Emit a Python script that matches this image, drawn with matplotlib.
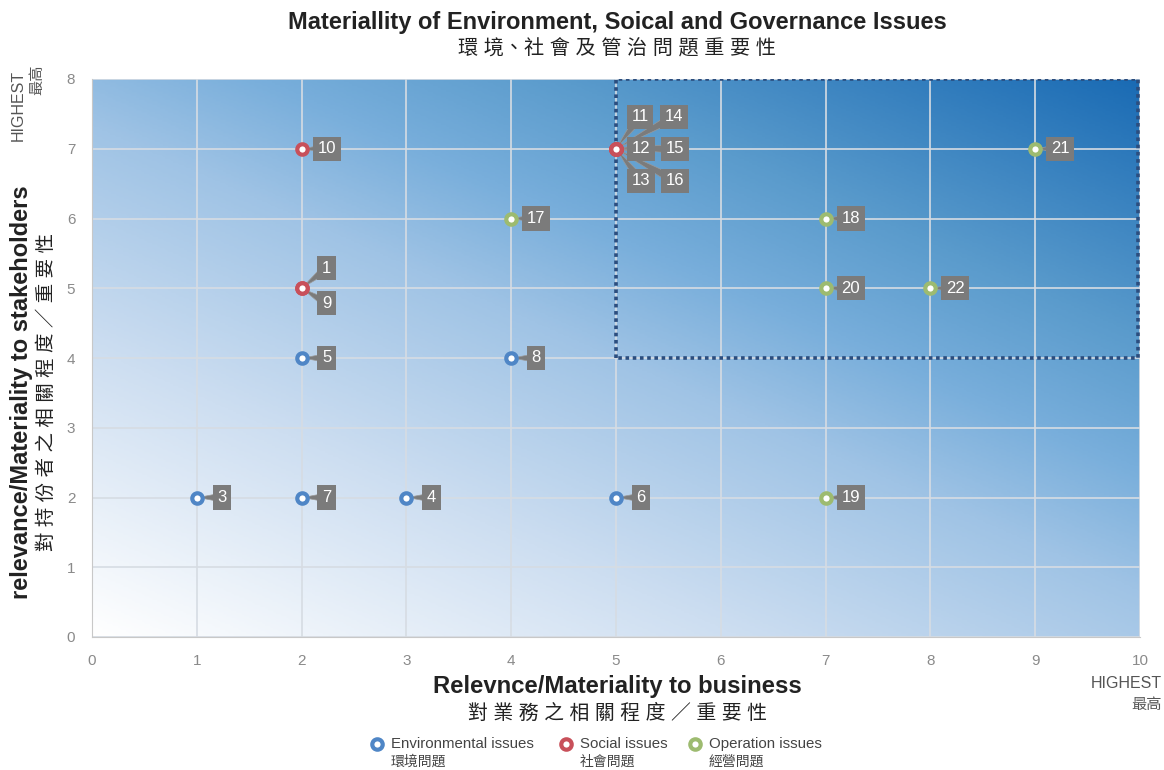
import numpy as np
import matplotlib.pyplot as plt
from matplotlib.colors import LinearSegmentedColormap
from matplotlib.lines import Line2D

plt.rcParams['font.family'] = ['Liberation Sans', 'Noto Sans CJK TC', 'DejaVu Sans']

# issue numbers and their positions (business, stakeholders)
env_ids = ['3', '5', '7', '4', '8', '6']
env_x = [1, 2, 2, 3, 4, 5]
env_y = [2, 4, 2, 2, 4, 2]

soc_ids = ['10', '1', '9', '11', '14', '12', '15', '13', '16']
soc_x = [2, 2, 2, 5, 5, 5, 5, 5, 5]
soc_y = [7, 5, 5, 7, 7, 7, 7, 7, 7]

ops_ids = ['17', '18', '20', '22', '21', '19']
ops_x = [4, 7, 7, 8, 9, 7]
ops_y = [6, 6, 5, 5, 7, 2]

# label offsets (pixels) for stacked labels
offsets = {'1': (25, 20), '9': (25, -15),
           '11': (24, 32), '14': (58, 32),
           '12': (25, 0), '15': (59, 0),
           '13': (25, -32), '16': (59, -32)}

fig = plt.figure(figsize=(11.64, 7.7), dpi=100)
ax = fig.add_axes([92/1164, 1-637/770, 1048/1164, 558/770])

# gradient background (steeper vertically than horizontally)
gx, gy = np.meshgrid(np.linspace(0, 1, 400), np.linspace(0, 1, 300))
grad = 0.455 * gx + 0.545 * gy
cmap = LinearSegmentedColormap.from_list(
    'bg', [(0, '#ffffff'), (0.28, '#cddef1'), (0.5, '#9fc3e5'), (0.62, '#78aedb'),
           (0.75, '#5a9bcc'), (1, '#1a6bb4')])
ax.imshow(grad, extent=[0, 10, 0, 8], origin='lower', cmap=cmap, aspect='auto', zorder=0)

ax.set_xlim(0, 10)
ax.set_ylim(0, 8)
ax.set_xticks(range(0, 11))
ax.set_yticks(range(0, 9))
ax.grid(True, color='#d6dce3', lw=1.2, zorder=1)
ax.tick_params(length=0, labelsize=11, colors='#8a8a8a', pad=12)
for s in ['top', 'right']:
    ax.spines[s].set_visible(False)
for s in ['left', 'bottom']:
    ax.spines[s].set_color('#c8c8c8')

# high importance zone
ax.plot([5, 5, 9.98, 9.98, 5], [4, 8, 8, 4, 4], ls=(0, (1, 1)), lw=2.6, color='#2b4d7e', zorder=2)


def draw(ids, xs, ys, color):
    ax.plot(xs, ys, 'o', ms=7.5, mfc='white', mec=color, mew=3, zorder=4, ls='none')
    for i, x, y in zip(ids, xs, ys):
        dx, dy = offsets.get(i, (25, 0))
        # connector first, box on top
        ax.annotate('', (x, y), xytext=(dx, dy), textcoords='offset pixels', zorder=3,
                    arrowprops=dict(arrowstyle='wedge,tail_width=0.6,shrink_factor=0.6',
                                    fc='#7b7b7b', ec='#9a9a9a', lw=0.5, shrinkA=0, shrinkB=2))
        ax.annotate(i, (x, y), xytext=(dx, dy), textcoords='offset pixels',
                    ha='center', va='center', color='white', fontsize=12, zorder=5,
                    bbox=dict(boxstyle='square,pad=0.28', fc='#7b7b7b', ec='none'))


draw(env_ids, env_x, env_y, '#4f86c6')
draw(soc_ids, soc_x, soc_y, '#c8505a')
draw(ops_ids, ops_x, ops_y, '#9dbb70')

# titles
fig.text(0.53, 1-22/770, 'Materiallity of Environment, Soical and Governance Issues',
         ha='center', va='center', fontsize=17, fontweight='bold', color='#222222')
fig.text(0.53, 1-49/770, '環 境、社 會 及 管 治 問 題 重 要 性',
         ha='center', va='center', fontsize=14.5, color='#222222')
fig.text(617/1164, 1-687/770, 'Relevnce/Materiality to business',
         ha='center', va='center', fontsize=17.2, fontweight='bold', color='#222222')
fig.text(617/1164, 1-713/770, '對 業 務 之 相 關 程 度 ／ 重 要 性',
         ha='center', va='center', fontsize=14.3, color='#222222')
fig.text(22/1164, 1-392/770, 'relevance/Materiality to stakeholders', rotation=90,
         ha='center', va='center', fontsize=17, fontweight='bold', color='#222222')
fig.text(47/1164, 1-392/770, '對 持 份 者 之 相 關 程 度 ／ 重 要 性', rotation=90,
         ha='center', va='center', fontsize=14, color='#222222')

# HIGHEST markers
fig.text(18/1164, 1-105/770, 'HIGHEST', rotation=90, ha='center', va='center',
         fontsize=11.5, color='#555555')
fig.text(37/1164, 1-80/770, '最高', rotation=90, ha='center', va='center',
         fontsize=11, color='#555555')
fig.text(1162/1164, 1-683/770, 'HIGHEST', ha='right', va='center', fontsize=11.5, color='#555555')
fig.text(1162/1164, 1-705/770, '最高', ha='right', va='center', fontsize=11, color='#555555')

# legend
legend = [('Environmental issues', '環境問題', '#4f86c6', 377),
          ('Social issues', '社會問題', '#c8505a', 566),
          ('Operation issues', '經營問題', '#9dbb70', 695)]
for en, zh, col, px in legend:
    fig.add_artist(Line2D([px/1164], [1-744/770], marker='o', ms=7.5, mfc='white', mec=col, mew=3,
                          transform=fig.transFigure))
    fig.text((px+14)/1164, 1-744/770, en, ha='left', va='center', fontsize=10.8, color='#444444')
    fig.text((px+14)/1164, 1-762/770, zh, ha='left', va='center', fontsize=10, color='#444444')

fig.savefig('out.png', dpi=100)
